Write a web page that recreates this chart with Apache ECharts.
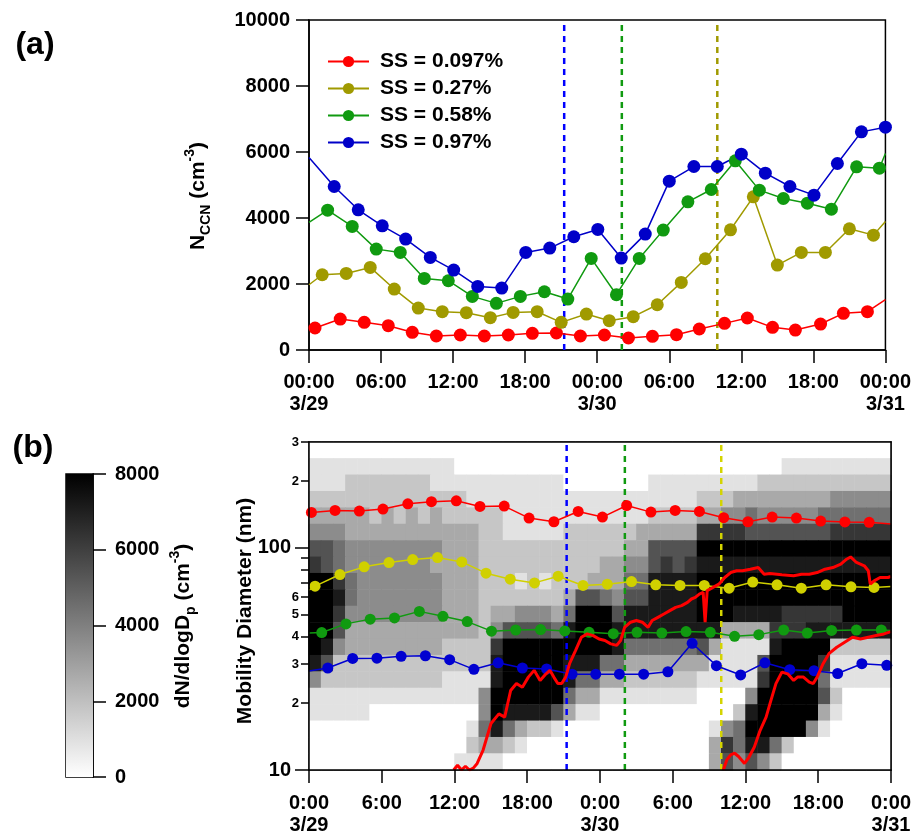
<!DOCTYPE html>
<html>
<head>
<meta charset="utf-8">
<script src="https://cdn.jsdelivr.net/npm/echarts@6/dist/echarts.min.js"></script>
<style>
html, body { margin: 0; padding: 0; background: #fff; }
#container { width: 914px; height: 837px; }
</style>
</head>
<body>
<div id="container"></div>
<script>
// time axis: hours from 3/29 00:00
var ticksA = ['00:00\n3/29', '06:00', '12:00', '18:00', '00:00\n3/30', '06:00', '12:00', '18:00', '00:00\n3/31'];
var ticksB = ['0:00\n3/29', '6:00', '12:00', '18:00', '0:00\n3/30', '6:00', '12:00', '18:00', '0:00\n3/31'];
var ssNames = ['SS = 0.097%', 'SS = 0.27%', 'SS = 0.58%', 'SS = 0.97%'];

// (a) N_CCN (cm-3)
var tRed = [0.5, 2.6, 4.6, 6.6, 8.6, 10.6, 12.6, 14.6, 16.6, 18.6, 20.6, 22.6, 24.6, 26.6, 28.6, 30.6, 32.5, 34.6, 36.5, 38.6, 40.5, 42.6, 44.5, 46.5, 48];
var ccnRed = [666, 938, 838, 737, 535, 424, 454, 424, 454, 505, 515, 424, 454, 363, 414, 464, 636, 807, 969, 686, 605, 787, 1110, 1160, 1524];
var tOlive = [0, 1.1, 3.1, 5.1, 7.1, 9.1, 11.1, 13.1, 15.1, 17, 19, 21, 23.1, 25, 27, 29, 31, 33, 35.1, 37, 39, 41, 43, 45, 47, 48];
var ccnOlive = [1978, 2281, 2321, 2503, 1847, 1271, 1160, 1130, 979, 1140, 1160, 838, 1090, 888, 1009, 1372, 2048, 2765, 3643, 4642, 2573, 2957, 2957, 3673, 3481, 3895];
var tGreen = [0, 1.55, 3.6, 5.6, 7.6, 9.6, 11.6, 13.6, 15.6, 17.6, 19.6, 21.55, 23.5, 25.6, 27.5, 29.5, 31.55, 33.5, 35.5, 37.5, 39.5, 41.5, 43.5, 45.6, 47.5, 48];
var ccnGreen = [3865, 4238, 3744, 3057, 2957, 2170, 2099, 1625, 1413, 1625, 1766, 1544, 2775, 1675, 2775, 3633, 4490, 4864, 5732, 4844, 4591, 4450, 4268, 5550, 5510, 5954];
var tBlue = [0, 2.1, 4.1, 6.1, 8.05, 10.1, 12.05, 14.05, 16.05, 18.05, 20.05, 22.05, 24.05, 26, 28, 30, 32.05, 34, 36, 38, 40.05, 42.05, 44, 46, 48];
var ccnBlue = [5833, 4955, 4248, 3764, 3360, 2805, 2422, 1927, 1877, 2957, 3088, 3431, 3653, 2785, 3512, 5116, 5560, 5560, 5933, 5358, 4955, 4692, 5651, 6610, 6751];

// dashed event markers (hours)
var eventTimes = [21.25, 26.05, 34.0];

// (b) activation diameters (nm)
var tRedB = [0.2, 2.15, 4.15, 6.1, 8.15, 10.1, 12.15, 14.1, 16.1, 18.15, 20.2, 22.2, 24.2, 26.2, 28.2, 30.2, 32.2, 34.2, 36.2, 38.2, 40.2, 42.2, 44.2, 46.2, 48];
var dRedB = [144.6, 147.5, 146.6, 149.6, 158.1, 161.5, 163.0, 153.8, 154.3, 136.3, 131.2, 146.0, 137.7, 155.3, 145.0, 147.5, 146.0, 136.8, 131.2, 137.7, 136.3, 132.1, 130.9, 130.4, 128.2];
var tYelB = [0, 0.5, 2.55, 4.55, 6.6, 8.55, 10.6, 12.6, 14.6, 16.6, 18.6, 20.55, 22.6, 24.6, 26.6, 28.6, 30.6, 32.6, 34.65, 36.6, 38.6, 40.6, 42.65, 44.7, 46.6, 48];
var dYelB = [64.5, 67.3, 75.9, 82.2, 85.9, 88.6, 90.5, 86.5, 77.0, 72.3, 69.6, 74.6, 67.8, 68.7, 70.6, 68.2, 67.8, 67.8, 65.9, 70.2, 68.2, 65.9, 68.2, 66.8, 66.4, 67.0];
var tGrnB = [0, 1.05, 3.05, 5.05, 7.05, 9.1, 11.05, 13.05, 15.05, 17.05, 19.1, 21.1, 23.1, 25.1, 27.05, 29.1, 31.1, 33.1, 35.1, 37.1, 39.15, 41.1, 43.1, 45.15, 47.2, 48];
var dGrnB = [41.4, 41.6, 45.5, 47.8, 48.4, 51.8, 49.2, 46.6, 42.2, 42.7, 42.9, 42.3, 41.7, 41.1, 41.7, 41.4, 42.0, 41.7, 40.0, 40.7, 42.7, 41.4, 42.5, 42.7, 42.7, 42.5];
var tBluB = [0, 1.55, 3.6, 5.6, 7.6, 9.6, 11.6, 13.6, 15.6, 17.6, 19.6, 21.7, 23.65, 25.6, 27.6, 29.6, 31.6, 33.6, 35.6, 37.6, 39.65, 41.65, 43.6, 45.6, 47.65, 48];
var dBluB = [27.9, 28.8, 31.8, 31.9, 32.5, 32.7, 31.4, 28.4, 30.4, 28.8, 28.5, 27.0, 27.0, 27.0, 27.0, 27.7, 37.2, 29.5, 26.8, 30.4, 28.3, 28.0, 27.2, 30.1, 29.6, 29.6];

// growing nucleation mode diameter (nm)
var tGrow1 = [11.93, 12.25, 12.58, 12.9, 13.23, 13.55, 13.87, 14.36, 15.01, 15.66, 16.14, 16.63, 17.11, 17.6, 18.09, 18.57, 19.06, 19.55, 19.87, 20.19, 20.52, 20.84, 21.17, 21.49, 21.98, 22.46, 22.95, 23.44, 23.92, 24.41, 24.89, 25.38, 25.7, 26.03, 26.52, 27.0, 27.49, 27.97, 28.3, 28.78, 29.27, 29.76, 30.24, 30.73, 31.22, 31.54, 31.86, 32.19, 32.51, 32.67, 32.84, 33.32, 33.81, 34.29, 34.78, 35.27, 35.75, 36.4, 37.05, 37.54, 38.02, 39.0, 39.97, 40.62, 41.26, 41.91, 42.56, 43.21, 43.86, 44.34, 44.67, 45.15, 45.8, 46.13, 46.29, 46.61, 47.1, 47.75, 48];
var dGrow1 = [10.0, 10.5, 10.0, 10.4, 10.0, 10.2, 10.7, 12.3, 16.2, 17.9, 17.3, 22.8, 24.5, 23.6, 26.2, 28.1, 25.3, 27.1, 28.1, 26.2, 24.5, 24.5, 26.2, 30.1, 34.5, 39.6, 41.0, 40.3, 38.9, 38.3, 37.0, 36.4, 38.3, 43.9, 46.3, 47.1, 46.3, 43.9, 47.1, 48.7, 50.4, 52.2, 54.0, 55.0, 56.9, 58.9, 59.9, 62.0, 63.1, 46.3, 64.2, 66.4, 68.7, 73.6, 77.5, 78.9, 78.9, 80.2, 81.6, 76.2, 76.7, 75.7, 74.9, 76.2, 76.2, 77.5, 80.2, 81.6, 84.5, 89.0, 91.1, 86.0, 83.1, 78.9, 68.7, 71.1, 73.6, 73.6, 74.4];
var tGrow2 = [34.17, 34.46, 34.78, 35.1, 35.43, 35.92, 36.24, 36.73, 37.21, 37.7, 38.02, 38.51, 39.0, 39.48, 39.97, 40.29, 40.78, 41.26, 41.59, 41.91, 42.4, 42.88, 43.53, 44.18, 44.83, 45.48, 46.13, 46.77, 47.42, 48];
var dGrow2 = [10.0, 11.1, 11.7, 11.9, 11.5, 10.7, 11.3, 12.7, 15.1, 17.3, 19.9, 24.5, 27.6, 27.1, 25.3, 26.2, 26.2, 24.9, 24.5, 26.2, 30.1, 33.4, 35.7, 37.6, 39.6, 38.9, 39.6, 40.3, 41.0, 42.0];

// diameter axis ticks (nm)
var diamMajor = [10, 100];
var diamMinorTicks = [20, 30, 40, 50, 60, 70, 80, 90, 200, 300];
var diamMinorLabels = [20, 30, 40, 50, 60, 200, 300];

// dN/dlogDp, one hour x 20 log-spaced size bins (10-300 nm), top bin first, digit x 900 cm-3
var heatRows = [
  '000000 000000 000000 000000 000000 000000 000000 000000',
  '111111 111111 000000 000000 000000 000000 000111 111111',
  '111222 222211 111111 111000 000011 111111 122222 222222',
  '222222 222222 211111 111111 111111 112223 333333 344444',
  '333332 323232 222211 111111 111122 223344 544444 555555',
  '444333 333333 332211 111222 222333 337777 666666 677777',
  '665444 444443 332222 222222 223366 669999 999999 999999',
  '765444 444433 332222 222222 334467 678888 888888 888888',
  '997544 444443 332221 212223 335588 889999 999999 999999',
  '998544 444443 332222 222366 546688 889999 999999 999999',
  '997444 444443 332334 443599 968888 889998 888777 779999',
  '996333 333333 332466 665899 988888 888833 337778 888888',
  '984333 333332 222799 999999 985555 556311 118999 922222',
  '862222 222222 222899 999888 553333 333111 169999 711111',
  '422222 222221 111899 999855 332222 221111 179999 511111',
  '111111 111111 114999 999533 111111 110000 499999 620000',
  '111110 000000 004988 886311 000000 000002 899999 310000',
  '000000 000000 015853 221000 000000 000145 999994 100000',
  '000000 000000 023321 000000 000000 000375 885200 000000',
  '000000 000000 111100 000000 000000 000364 642000 000000'
];
var cbMax = 8000;

var myChart = echarts.init(document.getElementById('container'));
var FONT = '"Liberation Sans", Arial, sans-serif';
var lg = function (v) { return Math.log10(v); };
var dMin = lg(10), dMax = lg(300);

function pts(ts, vs, bare, f) {
  return ts.map(function (t, i) {
    var item = { value: [t, f ? f(vs[i]) : vs[i]] };
    if (bare.indexOf(i) >= 0) item.symbol = 'none';
    return item;
  });
}

var heatData = [], heatCols = [], heatBins = [];
heatRows.forEach(function (row, i) {
  var r = heatRows.length - 1 - i;
  row.replace(/ /g, '').split('').forEach(function (ch, c) {
    heatData.push([c, r, +ch * 900]);
  });
});
for (var r = 0; r < heatRows.length; r++) heatBins.push('b' + r);
for (var c = 0; c < 48; c++) heatCols.push('h' + c);

var axisLine = { show: true, lineStyle: { color: '#000', width: 1.5 } };
var lbl = { color: '#000', fontSize: 20, fontWeight: 'bold', fontFamily: FONT };
var plain = function (v) { return String(v); };

function ccnSeries(name, color, ts, vs, bare) {
  return {
    name: name, type: 'line', xAxisIndex: 0, yAxisIndex: 0,
    data: pts(ts, vs, bare), symbol: 'circle', symbolSize: 13,
    itemStyle: { color: color }, lineStyle: { color: color, width: 1.5 }, z: 4
  };
}
function diamSeries(name, color, ts, vs, bare) {
  return {
    name: name, type: 'line', xAxisIndex: 1, yAxisIndex: 1,
    data: pts(ts, vs, bare, lg), symbol: 'circle', symbolSize: 11,
    itemStyle: { color: color }, lineStyle: { color: color, width: 1.5 }, z: 4
  };
}
function vline(t, y0, y1, color, xi, yi) {
  return {
    type: 'line', xAxisIndex: xi, yAxisIndex: yi, data: [[t, y0], [t, y1]],
    symbol: 'none', silent: true, z: 3,
    lineStyle: { color: color, width: 2.5, type: [6, 5] }
  };
}
function growSeries(ts, vs) {
  return {
    type: 'line', xAxisIndex: 1, yAxisIndex: 1, symbol: 'none', z: 5,
    data: ts.map(function (t, i) { return [t, lg(vs[i])]; }),
    lineStyle: { color: '#ff0000', width: 3 }
  };
}

var sub = { fontSize: 14, fontWeight: 'bold', fontFamily: FONT, fill: '#000', verticalAlign: 'bottom', lineHeight: 14 };
var sup = { fontSize: 14, fontWeight: 'bold', fontFamily: FONT, fill: '#000', verticalAlign: 'top', lineHeight: 14 };
var base = { fontSize: 21, fontWeight: 'bold', fontFamily: FONT, fill: '#000', lineHeight: 30 };

var option = {
  animation: false,
  backgroundColor: '#fff',
  textStyle: { fontFamily: FONT },
  grid: [
    { left: 309, top: 20, width: 582, height: 330, show: true, borderColor: '#000', borderWidth: 1.5 },
    { left: 309, top: 442, width: 582, height: 328, show: true, borderColor: '#000', borderWidth: 1.5 },
    { left: 66, top: 474, width: 27, height: 303, show: true, borderColor: '#000', borderWidth: 1.5 }
  ],
  xAxis: [
    {
      gridIndex: 0, type: 'value', min: 0, max: 48, interval: 6, axisLine: axisLine,
      axisTick: { length: 13, lineStyle: { width: 1.5 } }, splitLine: { show: false },
      axisLabel: Object.assign({ margin: 21, lineHeight: 22, formatter: function (v) { return ticksA[Math.round(v / 6)]; } }, lbl)
    },
    {
      gridIndex: 1, type: 'value', min: 0, max: 48, interval: 6, axisLine: axisLine, z: 10,
      axisTick: { length: 13, lineStyle: { width: 1.5 } }, splitLine: { show: false },
      axisLabel: Object.assign({ margin: 22, lineHeight: 22, formatter: function (v) { return ticksB[Math.round(v / 6)]; } }, lbl)
    },
    {
      gridIndex: 1, type: 'category', data: heatCols, position: 'top', z: 10,
      axisLine: axisLine, axisTick: { show: false }, axisLabel: { show: false }, splitLine: { show: false }
    },
    { gridIndex: 2, type: 'category', data: ['cb'], show: false }
  ],
  yAxis: [
    {
      gridIndex: 0, type: 'value', min: 0, max: 10000, interval: 2000, axisLine: axisLine,
      axisTick: { show: true, length: 13, lineStyle: { width: 1.5 } }, splitLine: { show: false },
      axisLabel: Object.assign({ margin: 19, formatter: plain }, lbl)
    },
    {
      gridIndex: 1, type: 'value', min: dMin, max: dMax, position: 'left', axisLine: axisLine, z: 10,
      splitLine: { show: false },
      axisTick: { show: true, length: 14, lineStyle: { width: 1.5 }, customValues: diamMajor.map(lg) },
      axisLabel: Object.assign({ margin: 18, customValues: diamMajor.map(lg),
        formatter: function (v) { return String(Math.round(Math.pow(10, v))); } }, lbl)
    },
    {
      gridIndex: 1, type: 'value', min: dMin, max: dMax, position: 'left', z: 10,
      axisLine: { show: false }, splitLine: { show: false },
      axisTick: { show: true, length: 8, lineStyle: { width: 1.5, color: '#000' }, customValues: diamMinorTicks.map(lg) },
      axisLabel: { margin: 10, color: '#000', fontSize: 13, fontWeight: 'bold', fontFamily: FONT,
        customValues: diamMinorLabels.map(lg),
        formatter: function (v) { return String(Math.round(Math.pow(10, v))).charAt(0); } }
    },
    {
      gridIndex: 1, type: 'category', data: heatBins, position: 'right', z: 10,
      axisLine: axisLine, axisTick: { show: false }, axisLabel: { show: false }, splitLine: { show: false }
    },
    {
      gridIndex: 2, type: 'value', min: 0, max: cbMax, interval: 2000, position: 'right', axisLine: axisLine,
      axisTick: { show: true, length: 13, lineStyle: { width: 1.5 } }, splitLine: { show: false },
      axisLabel: Object.assign({ margin: 22, formatter: plain }, lbl)
    }
  ],
  visualMap: {
    type: 'continuous', show: false, min: 0, max: cbMax, seriesIndex: 0,
    inRange: { color: ['#ffffff', '#000000'] }
  },
  legend: {
    data: ssNames, orient: 'vertical', left: 322, top: 46, selectedMode: false,
    itemWidth: 41, itemHeight: 14, itemGap: 6,
    textStyle: { color: '#000', fontSize: 21, fontWeight: 'bold', fontFamily: FONT, lineHeight: 21, padding: [0, 0, 0, 6] }
  },
  graphic: [
    { type: 'text', x: 35, y: 45, style: { text: '(a)', fontSize: 32, fontWeight: 'bold', fontFamily: FONT, fill: '#000', align: 'center', verticalAlign: 'middle' } },
    { type: 'text', x: 33, y: 448, style: { text: '(b)', fontSize: 32, fontWeight: 'bold', fontFamily: FONT, fill: '#000', align: 'center', verticalAlign: 'middle' } },
    { type: 'text', x: 198, y: 196, rotation: Math.PI / 2,
      style: { text: '{b|N}{s|CCN}{b| (cm}{p|-3}{b|)}', rich: { b: base, s: sub, p: sup }, align: 'center', verticalAlign: 'middle' } },
    { type: 'text', x: 245, y: 611, rotation: Math.PI / 2,
      style: { text: 'Mobility Diameter (nm)', fontSize: 21, fontWeight: 'bold', fontFamily: FONT, fill: '#000', align: 'center', verticalAlign: 'middle' } },
    { type: 'text', x: 183, y: 626, rotation: Math.PI / 2,
      style: { text: '{b|dN/dlogD}{s|p}{b| (cm}{p|-3}{b|)}', rich: { b: base, s: sub, p: sup }, align: 'center', verticalAlign: 'middle' } }
  ],
  series: [
    {
      type: 'heatmap', xAxisIndex: 2, yAxisIndex: 3, data: heatData, z: 1, silent: true
    },
    {
      type: 'bar', xAxisIndex: 3, yAxisIndex: 4, data: [cbMax], barWidth: '100%', silent: true,
      itemStyle: { color: { type: 'linear', x: 0, y: 0, x2: 0, y2: 1, colorStops: [{ offset: 0, color: '#000' }, { offset: 1, color: '#fff' }] } }
    },
    vline(eventTimes[0], 0, 10000, '#0000ff', 0, 0),
    vline(eventTimes[1], 0, 10000, '#109a10', 0, 0),
    vline(eventTimes[2], 0, 10000, '#a09a00', 0, 0),
    ccnSeries(ssNames[0], '#ff0000', tRed, ccnRed, [24]),
    ccnSeries(ssNames[1], '#a09a00', tOlive, ccnOlive, [0, 25]),
    ccnSeries(ssNames[2], '#109a10', tGreen, ccnGreen, [0, 25]),
    ccnSeries(ssNames[3], '#0000c8', tBlue, ccnBlue, [0]),
    vline(eventTimes[0], dMin, dMax, '#0000ff', 1, 1),
    vline(eventTimes[1], dMin, dMax, '#109a10', 1, 1),
    vline(eventTimes[2], dMin, dMax, '#d4d400', 1, 1),
    diamSeries('b1', '#ff0000', tRedB, dRedB, [24]),
    diamSeries('b2', '#d0d000', tYelB, dYelB, [0, 25]),
    diamSeries('b3', '#109a10', tGrnB, dGrnB, [0, 25]),
    diamSeries('b4', '#0000d0', tBluB, dBluB, [0, 25]),
    growSeries(tGrow1, dGrow1),
    growSeries(tGrow2, dGrow2)
  ]
};
myChart.setOption(option);
</script>
</body>
</html>
